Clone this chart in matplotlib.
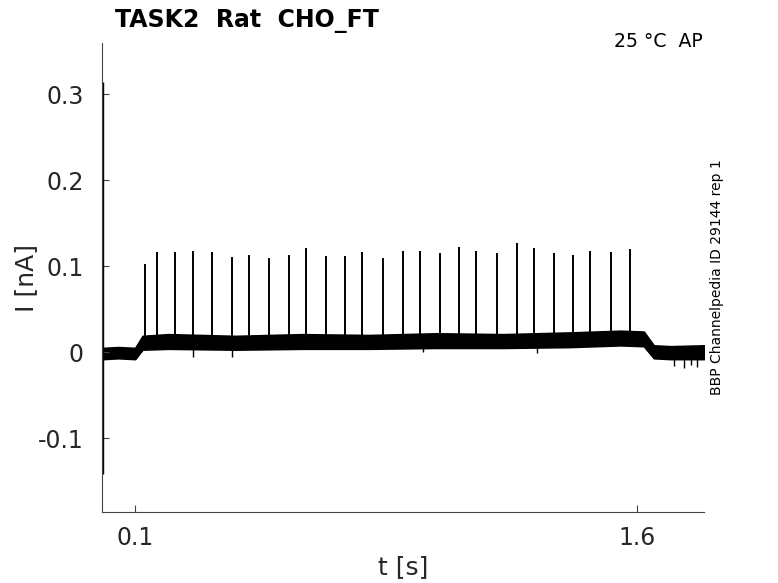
# current trace, TASK2 Rat CHO_FT
import numpy as np
import matplotlib
matplotlib.use('Agg')
import matplotlib.pyplot as plt

# spike times [s] and peak currents [nA]
spike_t = [0.129, 0.165, 0.220, 0.272, 0.331, 0.388, 0.439, 0.501, 0.560,
           0.611, 0.671, 0.728, 0.779, 0.841, 0.899, 0.951, 1.011, 1.068,
           1.119, 1.181, 1.240, 1.291, 1.352, 1.407, 1.459, 1.522, 1.580]
spike_peak = [0.103, 0.116, 0.116, 0.118, 0.116, 0.111, 0.113, 0.109, 0.113,
              0.121, 0.112, 0.112, 0.117, 0.110, 0.118, 0.118, 0.115, 0.122,
              0.118, 0.115, 0.127, 0.121, 0.115, 0.113, 0.118, 0.117, 0.120]
spike_base = 0.015

# noisy baseline envelope (knots)
env_t = [0.003, 0.05, 0.10, 0.122, 0.20, 0.40, 0.60, 0.80, 1.00, 1.20,
         1.40, 1.55, 1.62, 1.65, 1.70, 1.80]
env_lo = [-0.008, -0.007, -0.008, 0.003, 0.004, 0.003, 0.004, 0.004, 0.005,
          0.005, 0.006, 0.008, 0.007, -0.007, -0.008, -0.008]
env_hi = [0.005, 0.006, 0.005, 0.019, 0.021, 0.019, 0.021, 0.020, 0.022,
          0.021, 0.023, 0.025, 0.024, 0.008, 0.007, 0.008]

# spikes of noise poking out of the band
glitch_t = [0.272, 0.388, 0.96, 1.30, 1.71, 1.74, 1.76, 1.78]
glitch_lo = [-0.006, -0.006, 0.000, -0.001, -0.016, -0.018, -0.015, -0.017]
glitch_hi = [0.010, 0.010, 0.012, 0.012, 0.000, 0.000, 0.000, 0.000]

# capacitive transient at the start
trans_t = 0.003
trans_lo, trans_hi = -0.142, 0.314

xticks = [0.1, 1.6]
yticks = [-0.1, 0, 0.1, 0.2, 0.3]
ytick_labels = ['-0.1', '0', '0.1', '0.2', '0.3']

fig = plt.figure(figsize=(7.78, 5.83), dpi=100)
ax = fig.add_axes([0.1307, 0.1213, 0.7742, 0.8044])

ax.fill_between(env_t, env_lo, env_hi, color='black', lw=1.2)
ax.vlines(spike_t, spike_base, spike_peak, color='black', lw=1.4)
ax.vlines(glitch_t, glitch_lo, glitch_hi, color='black', lw=1.0)
ax.vlines([trans_t], trans_lo, trans_hi, color='black', lw=1.0)

ax.set_xlim(0, 1.8)
ax.set_ylim(-0.186, 0.359)
ax.set_xticks(xticks)
ax.set_xticklabels([str(x) for x in xticks])
ax.set_yticks(yticks)
ax.set_yticklabels(ytick_labels)

for s in ['top', 'right']:
    ax.spines[s].set_visible(False)
for s in ['left', 'bottom']:
    ax.spines[s].set_color('#444444')
ax.tick_params(direction='in', length=5, color='#444444', labelsize=17,
               labelcolor='#262626')
ax.tick_params(axis='y', pad=13)
ax.tick_params(axis='x', pad=10)

ax.set_xlabel('t [s]', fontsize=18, color='#262626')
ax.set_ylabel('I [nA]', fontsize=18, color='#262626')
ax.xaxis.set_label_coords(0.5, -0.091)
ax.yaxis.set_label_coords(-0.106, 0.5)

fig.text(0.148, 0.954, 'TASK2  Rat  CHO_FT', fontsize=17, fontweight='bold',
         va='baseline', ha='left')
fig.text(0.9036, 0.919, '25 °C  AP', fontsize=13.6, va='baseline', ha='right')
fig.text(0.9216, 0.524, 'BBP Channelpedia ID 29144 rep 1', fontsize=10,
         rotation=90, va='center', ha='center')

fig.savefig('out.png', dpi=100)
